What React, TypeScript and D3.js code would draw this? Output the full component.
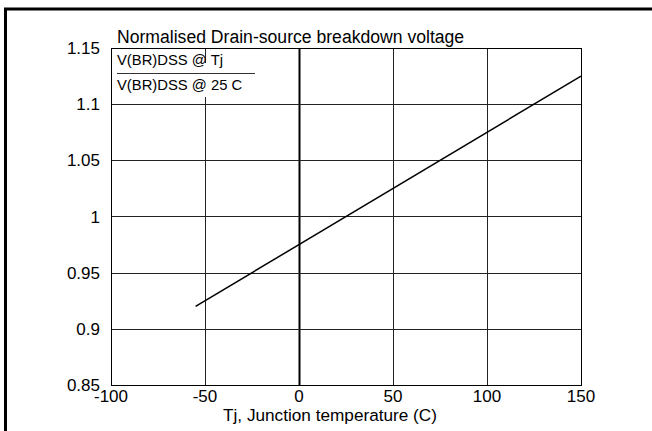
import React, { useRef, useEffect } from 'react';
import * as d3 from 'd3';

// chart data
const xTicks = [-100, -50, 0, 50, 100, 150];
const yTicks = [0.85, 0.9, 0.95, 1, 1.05, 1.1, 1.15];
const tempPoints = [-55, 150];
const ratioPoints = [0.92, 1.125];

const title = 'Normalised Drain-source breakdown voltage';
const xTitle = 'Tj, Junction temperature (C)';
const labelTop = 'V(BR)DSS @ Tj';
const labelBottom = 'V(BR)DSS @ 25 C';

const W = 652;
const H = 431;

const App: React.FC = () => {
    const svgRef = useRef<SVGSVGElement | null>(null);

    useEffect(() => {
        const svg = d3.select(svgRef.current);
        svg.selectAll('*').remove();

        const margin = { top: 48, right: 71, bottom: 46, left: 111 };
        const innerWidth = W - margin.left - margin.right;
        const innerHeight = H - margin.top - margin.bottom;
        const font = 'Liberation Sans, Arial, sans-serif';

        // outer frame (top + left only)
        svg.append('path')
            .attr('d', `M5.5,${H} V9 H${W}`)
            .attr('fill', 'none')
            .attr('stroke', '#000')
            .attr('stroke-width', 3);

        const g = svg.append('g')
            .attr('transform', `translate(${margin.left},${margin.top})`);

        const x = d3.scaleLinear().domain([-100, 150]).range([0, innerWidth]);
        const y = d3.scaleLinear().domain([0.85, 1.15]).range([innerHeight, 0]);

        // grid
        g.selectAll('.vgrid')
            .data(xTicks)
            .enter()
            .append('line')
            .attr('x1', d => Math.round(x(d)) + 0.5)
            .attr('x2', d => Math.round(x(d)) + 0.5)
            .attr('y1', 0)
            .attr('y2', innerHeight)
            .attr('stroke', d => (d === 0 ? '#000' : '#222'))
            .attr('stroke-width', d => (d === 0 ? 2 : 1));

        g.selectAll('.hgrid')
            .data(yTicks)
            .enter()
            .append('line')
            .attr('x1', 0)
            .attr('x2', innerWidth)
            .attr('y1', d => Math.round(y(d)) + 0.5)
            .attr('y2', d => Math.round(y(d)) + 0.5)
            .attr('stroke', '#222')
            .attr('stroke-width', 1);

        // frame of plot area
        g.append('rect')
            .attr('x', 0.5)
            .attr('y', 0.5)
            .attr('width', innerWidth)
            .attr('height', innerHeight)
            .attr('fill', 'none')
            .attr('stroke', '#000');

        // inset label
        g.append('rect')
            .attr('x', 2)
            .attr('y', 15)
            .attr('width', 146)
            .attr('height', 34)
            .attr('fill', '#fff');

        g.append('text')
            .attr('x', 6)
            .attr('y', 17)
            .attr('font-family', font)
            .attr('font-size', 14.8)
            .text(labelTop);

        g.append('line')
            .attr('x1', 6)
            .attr('x2', 144)
            .attr('y1', 25.5)
            .attr('y2', 25.5)
            .attr('stroke', '#333');

        g.append('text')
            .attr('x', 6)
            .attr('y', 42)
            .attr('font-family', font)
            .attr('font-size', 14.8)
            .text(labelBottom);

        // data line
        const line = d3.line<number>()
            .x(d => x(d))
            .y((_, i) => y(ratioPoints[i]));

        g.append('path')
            .datum(tempPoints)
            .attr('d', line)
            .attr('fill', 'none')
            .attr('stroke', '#000')
            .attr('stroke-width', 1.5);

        // tick labels
        g.selectAll('.xlab')
            .data(xTicks)
            .enter()
            .append('text')
            .attr('x', d => x(d))
            .attr('y', innerHeight + 17)
            .attr('text-anchor', 'middle')
            .attr('font-family', font)
            .attr('font-size', 17)
            .text(d => String(d));

        g.selectAll('.ylab')
            .data(yTicks)
            .enter()
            .append('text')
            .attr('x', -11)
            .attr('y', d => y(d) + 6)
            .attr('text-anchor', 'end')
            .attr('font-family', font)
            .attr('font-size', 17)
            .text(d => String(d));

        // titles
        g.append('text')
            .attr('x', 6)
            .attr('y', -5)
            .attr('font-family', font)
            .attr('font-size', 17.6)
            .text(title);

        g.append('text')
            .attr('x', 219)
            .attr('y', innerHeight + 36)
            .attr('text-anchor', 'middle')
            .attr('font-family', font)
            .attr('font-size', 17.2)
            .text(xTitle);
    }, []);

    return (
        <svg
            ref={svgRef}
            width={W}
            height={H}
            style={{ position: 'absolute', left: 0, top: 0, background: '#fff' }}
        />
    );
};

export default App;
